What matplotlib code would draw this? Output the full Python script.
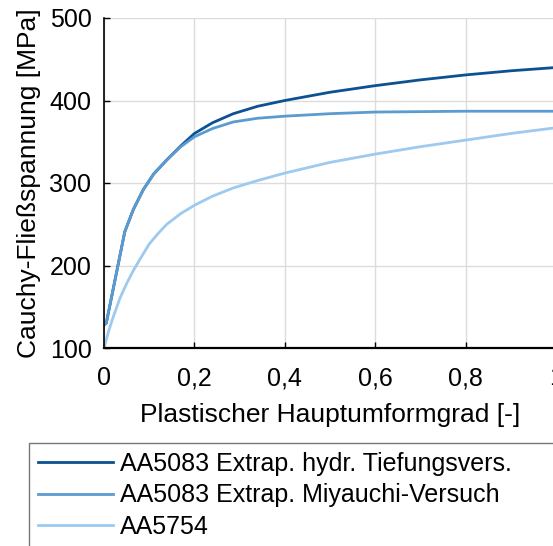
import matplotlib
matplotlib.use("Agg")
import matplotlib.pyplot as plt

plt.rcParams['font.family'] = ['Liberation Sans', 'DejaVu Sans']

x_dark = [0, 0.005, 0.046, 0.065, 0.087, 0.11, 0.139, 0.17, 0.2, 0.24, 0.286, 0.34, 0.4, 0.5, 0.6, 0.7, 0.8, 0.9, 1.0]
y_dark = [128, 130, 241, 268, 292, 311, 328, 345, 360, 373, 384, 393, 400, 410, 418, 425, 431, 436, 440]

x_mid = [0, 0.005, 0.046, 0.065, 0.087, 0.11, 0.139, 0.17, 0.2, 0.24, 0.286, 0.34, 0.4, 0.5, 0.6, 0.7, 0.8, 0.9, 1.0]
y_mid = [128, 130, 241, 268, 292, 311, 328, 344, 356, 366, 374, 378.5, 381, 384, 386, 386.5, 387, 387, 387]

x_light = [0, 0.01, 0.02, 0.035, 0.05, 0.065, 0.08, 0.1, 0.12, 0.139, 0.17, 0.2, 0.24, 0.286, 0.34, 0.4, 0.5, 0.6, 0.7, 0.8, 0.9, 1.0]
y_light = [100, 120, 137, 160, 178, 194, 208, 226, 239, 250, 263, 273, 284, 294, 303, 312, 325, 335, 344, 352, 360, 367]

labels = ["AA5083 Extrap. hydr. Tiefungsvers.", "AA5083 Extrap. Miyauchi-Versuch", "AA5754"]
colors = ["#0C5192", "#5B9BCF", "#9DCAEE"]

xticks = [0, 0.2, 0.4, 0.6, 0.8, 1.0]
xticklabels = ["0", "0,2", "0,4", "0,6", "0,8", "1"]
yticks = [100, 200, 300, 400, 500]

fig = plt.figure(figsize=(5.53, 5.46), dpi=100)
ax = fig.add_axes([104/553, 1-348/546, 452/553, 330/546])

ax.plot(x_light, y_light, color=colors[2], lw=2.0, label=labels[2])
ax.plot(x_dark, y_dark, color=colors[0], lw=2.0, label=labels[0])
ax.plot(x_mid, y_mid, color=colors[1], lw=2.0, label=labels[1])

ax.set_xlim(0, 1)
ax.set_ylim(100, 500)
ax.set_xticks(xticks)
ax.set_xticklabels(xticklabels)
ax.set_yticks(yticks)
ax.grid(True, color="#dcdcdc", lw=1.0)
ax.set_axisbelow(True)
for s in ["top", "right"]:
    ax.spines[s].set_visible(False)
ax.spines["left"].set_linewidth(1.2)
ax.spines["bottom"].set_linewidth(1.6)
ax.tick_params(direction="in", labelsize=18, length=4, width=1)
ax.tick_params(axis="x", pad=13)
ax.tick_params(axis="y", pad=9)

ax.set_xlabel("Plastischer Hauptumformgrad [-]", fontsize=19, labelpad=9)
ax.set_ylabel("Cauchy-Fließspannung [MPa]", fontsize=19, labelpad=6)

h, l = ax.get_legend_handles_labels()
hd = dict(zip(l, h))
leg = fig.legend([hd[lab] for lab in labels], labels,
                 loc="upper left", bbox_to_anchor=(29/553, 1-443/546, 0.98, 0),
                 mode="expand",
                 fontsize=18, frameon=True, fancybox=False,
                 handlelength=3.0, handletextpad=0.3, labelspacing=0.3,
                 borderpad=0.35, borderaxespad=0)
leg.get_frame().set_edgecolor("#555555")
leg.get_frame().set_linewidth(1.0)

fig.savefig("out.png", dpi=100)
